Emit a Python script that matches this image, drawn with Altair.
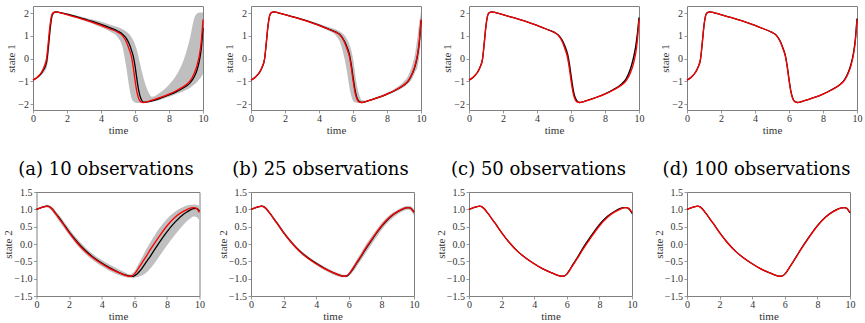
import altair as alt
import pandas as pd

# Shared time grid (denser where the trajectories change quickly)
TIME = [0, 0.25, 0.5, 0.65, 0.8, 0.9, 1.0, 1.1, 1.2, 1.35, 1.6, 2, 2.5, 3, 3.5, 4, 4.5, 5,
        5.25, 5.5, 5.65, 5.8, 5.9, 6.0, 6.1, 6.2, 6.35, 6.5, 6.75, 7, 7.5, 8, 8.5, 9, 9.25,
        9.5, 9.65, 9.8, 9.9, 10]

# True trajectories (red)
TRUE_S1 = [-0.95, -0.82, -0.6, -0.38, 0.0, 0.7, 1.45, 1.9, 2.02, 2.05, 2.01, 1.93, 1.82, 1.71,
           1.59, 1.46, 1.31, 1.15, 1.02, 0.72, 0.42, 0.05, -0.4, -0.95, -1.42, -1.72, -1.9,
           -1.93, -1.89, -1.83, -1.71, -1.56, -1.38, -1.15, -0.97, -0.62, -0.3, 0.2, 0.75, 1.72]
TRUE_S2 = [1.0, 1.04, 1.08, 1.09, 1.07, 1.03, 0.98, 0.92, 0.86, 0.76, 0.6, 0.33, 0.03, -0.22,
           -0.41, -0.57, -0.71, -0.82, -0.87, -0.91, -0.93, -0.93, -0.91, -0.87, -0.81, -0.74,
           -0.63, -0.52, -0.34, -0.15, 0.2, 0.52, 0.77, 0.94, 1.0, 1.04, 1.05, 1.03, 0.98, 0.91]

# Posterior means (black) and credible bands (grey), state 1
MEAN_S1_A = [-0.95, -0.83, -0.64, -0.45, -0.15, 0.48, 1.25, 1.82, 2.0, 2.05, 2.02, 1.95, 1.85,
             1.74, 1.63, 1.5, 1.36, 1.2, 1.08, 0.88, 0.66, 0.35, 0.1, -0.31, -0.84, -1.33,
             -1.77, -1.91, -1.9, -1.86, -1.74, -1.6, -1.43, -1.22, -1.06, -0.78, -0.5, -0.05,
             0.45, 1.35]
LO_S1_A = [-0.97, -0.86, -0.72, -0.6, -0.4, 0.0, 0.85, 1.6, 1.93, 2.01, 1.98, 1.9, 1.79, 1.66,
           1.53, 1.38, 1.2, 0.92, 0.55, -0.45, -1.2, -1.75, -1.88, -1.93, -1.95, -1.95, -1.95,
           -1.95, -1.93, -1.9, -1.81, -1.68, -1.54, -1.38, -1.28, -1.13, -1.03, -0.9, -0.8,
           -0.68]
HI_S1_A = [-0.93, -0.79, -0.55, -0.25, 0.2, 0.95, 1.65, 1.98, 2.06, 2.08, 2.05, 1.99, 1.9, 1.81,
           1.72, 1.62, 1.5, 1.38, 1.3, 1.18, 1.08, 0.93, 0.8, 0.62, 0.4, 0.1, -0.4, -0.85, -1.4,
           -1.68, -1.48, -1.15, -0.65, 0.25, 0.95, 1.8, 1.98, 2.02, 2.02, 2.02]

MEAN_S1_B = [-0.95, -0.82, -0.61, -0.39, -0.02, 0.67, 1.43, 1.89, 2.02, 2.05, 2.01, 1.93, 1.83,
             1.72, 1.6, 1.47, 1.32, 1.16, 1.04, 0.76, 0.5, 0.14, -0.28, -0.8, -1.3, -1.65, -1.88,
             -1.93, -1.89, -1.83, -1.71, -1.56, -1.39, -1.16, -0.99, -0.65, -0.34, 0.15, 0.7,
             1.68]
LO_S1_B = [-0.96, -0.84, -0.64, -0.45, -0.12, 0.5, 1.3, 1.84, 1.99, 2.03, 1.99, 1.9, 1.79, 1.67,
           1.55, 1.41, 1.24, 1.0, 0.7, 0.0, -0.6, -1.3, -1.65, -1.85, -1.92, -1.94, -1.95,
           -1.95, -1.92, -1.86, -1.75, -1.61, -1.45, -1.25, -1.1, -0.85, -0.6, -0.35, 0.1, 0.95]
HI_S1_B = [-0.94, -0.8, -0.57, -0.31, 0.12, 0.88, 1.58, 1.95, 2.05, 2.07, 2.03, 1.96, 1.86, 1.76,
           1.65, 1.53, 1.4, 1.28, 1.18, 1.02, 0.85, 0.6, 0.35, 0.0, -0.5, -1.05, -1.55, -1.82,
           -1.85, -1.79, -1.66, -1.5, -1.3, -1.0, -0.75, -0.25, 0.2, 1.0, 1.6, 2.02]

MEAN_S1_C = [-0.95, -0.82, -0.6, -0.38, 0.0, 0.7, 1.45, 1.9, 2.02, 2.05, 2.01, 1.93, 1.82, 1.71,
             1.59, 1.46, 1.31, 1.16, 1.04, 0.78, 0.52, 0.18, -0.22, -0.75, -1.25, -1.62, -1.86,
             -1.93, -1.89, -1.83, -1.7, -1.55, -1.36, -1.1, -0.88, -0.45, -0.05, 0.5, 1.05, 1.8]
LO_S1_C = [-0.955, -0.825, -0.605, -0.39, -0.03, 0.65, 1.42, 1.89, 2.015, 2.045, 2.005, 1.925,
           1.815, 1.7, 1.58, 1.445, 1.29, 1.13, 0.98, 0.66, 0.3, -0.15, -0.6, -1.1, -1.5, -1.75,
           -1.9, -1.935, -1.9, -1.84, -1.72, -1.57, -1.39, -1.16, -0.99, -0.6, -0.25, 0.25, 0.8,
           1.6]
HI_S1_C = [-0.945, -0.815, -0.595, -0.37, 0.03, 0.75, 1.48, 1.91, 2.025, 2.055, 2.015, 1.935,
           1.825, 1.72, 1.6, 1.475, 1.33, 1.19, 1.08, 0.85, 0.64, 0.35, 0.02, -0.45, -1.0, -1.45,
           -1.8, -1.925, -1.88, -1.82, -1.69, -1.53, -1.33, -1.06, -0.82, -0.35, 0.1, 0.7, 1.25,
           1.95]

MEAN_S1_D = [-0.95, -0.82, -0.6, -0.38, 0.0, 0.7, 1.45, 1.9, 2.02, 2.05, 2.01, 1.93, 1.82, 1.71,
             1.59, 1.46, 1.31, 1.15, 1.03, 0.74, 0.45, 0.09, -0.35, -0.9, -1.39, -1.7, -1.89,
             -1.93, -1.89, -1.83, -1.71, -1.56, -1.37, -1.14, -0.95, -0.58, -0.24, 0.28, 0.83,
             1.76]
LO_S1_D = [-0.955, -0.825, -0.605, -0.39, -0.02, 0.66, 1.43, 1.895, 2.015, 2.045, 2.005, 1.925,
           1.815, 1.705, 1.585, 1.455, 1.305, 1.14, 1.01, 0.7, 0.38, 0.0, -0.45, -0.98, -1.45,
           -1.74, -1.905, -1.935, -1.895, -1.835, -1.715, -1.565, -1.385, -1.16, -0.98, -0.65,
           -0.33, 0.15, 0.72, 1.7]
HI_S1_D = [-0.945, -0.815, -0.595, -0.37, 0.02, 0.74, 1.47, 1.905, 2.025, 2.055, 2.015, 1.935,
           1.825, 1.715, 1.595, 1.465, 1.315, 1.16, 1.05, 0.78, 0.5, 0.15, -0.27, -0.83, -1.34,
           -1.67, -1.88, -1.925, -1.885, -1.825, -1.705, -1.555, -1.355, -1.12, -0.92, -0.52,
           -0.17, 0.38, 0.92, 1.8]

# Posterior means and credible bands, state 2
MEAN_S2_A = [1.0, 1.04, 1.08, 1.09, 1.075, 1.04, 0.99, 0.93, 0.87, 0.78, 0.62, 0.35, 0.06, -0.19,
             -0.39, -0.55, -0.69, -0.81, -0.86, -0.9, -0.92, -0.93, -0.93, -0.92, -0.89, -0.85,
             -0.77, -0.68, -0.51, -0.34, 0.02, 0.35, 0.63, 0.85, 0.93, 1.0, 1.02, 1.03, 1.0, 0.95]
LO_S2_A = [0.99, 1.02, 1.05, 1.05, 1.02, 0.97, 0.91, 0.85, 0.78, 0.68, 0.52, 0.26, -0.04, -0.29,
           -0.48, -0.64, -0.78, -0.89, -0.93, -0.96, -0.97, -0.97, -0.97, -0.97, -0.96, -0.95,
           -0.93, -0.9, -0.82, -0.7, -0.38, -0.04, 0.27, 0.55, 0.67, 0.76, 0.79, 0.78, 0.74, 0.68]
HI_S2_A = [1.01, 1.07, 1.12, 1.13, 1.12, 1.09, 1.05, 1.0, 0.94, 0.86, 0.7, 0.44, 0.15, -0.1, -0.3,
           -0.46, -0.6, -0.72, -0.78, -0.84, -0.87, -0.87, -0.84, -0.79, -0.72, -0.63, -0.5,
           -0.37, -0.14, 0.06, 0.43, 0.72, 0.93, 1.07, 1.11, 1.13, 1.14, 1.13, 1.12, 1.1]

MEAN_S2_B = [1.0, 1.04, 1.08, 1.09, 1.07, 1.03, 0.98, 0.92, 0.86, 0.76, 0.6, 0.33, 0.04, -0.21,
             -0.4, -0.56, -0.7, -0.82, -0.87, -0.91, -0.93, -0.93, -0.92, -0.88, -0.82, -0.76,
             -0.65, -0.54, -0.36, -0.17, 0.18, 0.5, 0.76, 0.93, 0.99, 1.04, 1.05, 1.03, 0.98, 0.92]
LO_S2_B = [0.99, 1.02, 1.05, 1.06, 1.04, 1.0, 0.95, 0.88, 0.82, 0.72, 0.55, 0.28, -0.01, -0.26,
           -0.45, -0.61, -0.75, -0.87, -0.92, -0.95, -0.96, -0.96, -0.95, -0.92, -0.88, -0.83,
           -0.74, -0.64, -0.47, -0.29, 0.06, 0.4, 0.67, 0.86, 0.93, 0.98, 0.99, 0.96, 0.9, 0.82]
HI_S2_B = [1.01, 1.06, 1.1, 1.12, 1.1, 1.06, 1.01, 0.96, 0.9, 0.8, 0.65, 0.38, 0.09, -0.16, -0.35,
           -0.51, -0.65, -0.77, -0.82, -0.86, -0.89, -0.89, -0.87, -0.83, -0.76, -0.68, -0.56,
           -0.44, -0.25, -0.05, 0.29, 0.6, 0.84, 0.99, 1.05, 1.09, 1.1, 1.09, 1.05, 1.0]

MEAN_S2_C = [1.0, 1.04, 1.08, 1.09, 1.07, 1.03, 0.98, 0.92, 0.86, 0.76, 0.6, 0.33, 0.03, -0.22,
             -0.41, -0.57, -0.71, -0.82, -0.87, -0.91, -0.93, -0.93, -0.91, -0.87, -0.8, -0.73,
             -0.61, -0.5, -0.31, -0.11, 0.24, 0.56, 0.8, 0.96, 1.02, 1.05, 1.05, 1.02, 0.96, 0.88]
LO_S2_C = [0.995, 1.03, 1.07, 1.08, 1.06, 1.02, 0.97, 0.91, 0.85, 0.75, 0.59, 0.32, 0.02, -0.235,
           -0.425, -0.585, -0.725, -0.835, -0.885, -0.925, -0.945, -0.945, -0.925, -0.89,
           -0.825, -0.755, -0.64, -0.53, -0.34, -0.14, 0.21, 0.53, 0.78, 0.945, 1.005, 1.035,
           1.035, 1.0, 0.94, 0.86]
HI_S2_C = [1.005, 1.05, 1.09, 1.1, 1.08, 1.04, 0.99, 0.93, 0.87, 0.77, 0.61, 0.34, 0.04, -0.205,
           -0.395, -0.555, -0.695, -0.805, -0.855, -0.895, -0.915, -0.915, -0.895, -0.85, -0.78,
           -0.705, -0.58, -0.47, -0.28, -0.08, 0.27, 0.59, 0.82, 0.975, 1.035, 1.065, 1.065,
           1.04, 0.98, 0.9]

MEAN_S2_D = [1.0, 1.04, 1.08, 1.09, 1.07, 1.03, 0.98, 0.92, 0.86, 0.76, 0.6, 0.33, 0.03, -0.22,
             -0.41, -0.57, -0.71, -0.82, -0.87, -0.91, -0.93, -0.93, -0.91, -0.87, -0.81, -0.74,
             -0.63, -0.52, -0.33, -0.14, 0.21, 0.53, 0.78, 0.95, 1.01, 1.04, 1.05, 1.03, 0.97, 0.9]
LO_S2_D = [0.995, 1.035, 1.075, 1.085, 1.065, 1.025, 0.975, 0.915, 0.855, 0.755, 0.595, 0.325,
           0.025, -0.225, -0.415, -0.575, -0.715, -0.825, -0.875, -0.915, -0.935, -0.935,
           -0.915, -0.88, -0.82, -0.75, -0.64, -0.53, -0.345, -0.155, 0.195, 0.515, 0.77, 0.94,
           1.0, 1.035, 1.04, 1.02, 0.96, 0.89]
HI_S2_D = [1.005, 1.045, 1.085, 1.095, 1.075, 1.035, 0.985, 0.925, 0.865, 0.765, 0.605, 0.335,
           0.035, -0.215, -0.405, -0.565, -0.705, -0.815, -0.865, -0.905, -0.925, -0.925,
           -0.905, -0.86, -0.8, -0.73, -0.62, -0.51, -0.32, -0.13, 0.225, 0.545, 0.79, 0.96,
           1.02, 1.045, 1.06, 1.04, 0.98, 0.91]

CAPTIONS = ["(a) 10 observations", "(b) 25 observations",
            "(c) 50 observations", "(d) 100 observations"]

X_TICKS = [0, 2, 4, 6, 8, 10]
Y1_TICKS = [-2, -1, 0, 1, 2]
Y2_TICKS = [-1.5, -1.0, -0.5, 0.0, 0.5, 1.0, 1.5]

SERIF = "Liberation Serif"
CAPTION_FONT = "DejaVu Serif"
FRAME = "#808080"
INK = "#333333"
GREY = "#bfbfbf"

AXIS_STYLE = dict(
    labelFont=SERIF, labelFontSize=10, labelColor=INK,
    titleFont=SERIF, titleFontSize=11, titleFontWeight="normal", titleColor=INK,
    tickColor=FRAME, tickSize=3, tickWidth=0.8, domain=False, grid=False,
    labelFlush=False,
)


def panel(truth, mean, lo, hi, state, caption=None):
    df = pd.DataFrame({"t": TIME, "truth": truth, "mean": mean, "lo": lo, "hi": hi})
    if state == 1:
        ydom, yticks, yfmt, width, title_x = [-2.26, 2.31], Y1_TICKS, "d", 170, -21.5
    else:
        ydom, yticks, yfmt, width, title_x = [-1.5, 1.5], Y2_TICKS, ".1f", 163, -28
    x = alt.X("t:Q", scale=alt.Scale(domain=[0, 10], nice=False, zero=False),
              axis=alt.Axis(values=X_TICKS, format="d", title="time",
                            labelPadding=0.5, titlePadding=1, **AXIS_STYLE))
    yscale = alt.Scale(domain=ydom, nice=False, zero=False)
    yaxis = alt.Axis(values=yticks, format=yfmt, title=f"state {state}",
                     labelPadding=1.5, titleX=title_x, titleY=52, titleAngle=270,
                     titleAlign="center", titleBaseline="middle", **AXIS_STYLE)
    base = alt.Chart(df).encode(x=x)
    band = base.mark_area(color=GREY, interpolate="monotone").encode(
        y=alt.Y("lo:Q", scale=yscale, axis=yaxis), y2="hi:Q")
    est = base.mark_line(color="black", strokeWidth=1.3, interpolate="monotone").encode(
        y=alt.Y("mean:Q", scale=yscale, axis=yaxis))
    true_line = base.mark_line(color="#ff0000", strokeWidth=1.3, interpolate="monotone").encode(
        y=alt.Y("truth:Q", scale=yscale, axis=yaxis))
    ch = alt.layer(band, est, true_line).properties(width=width, height=104)
    if caption:
        ch = ch.properties(title=alt.TitleParams(
            caption, font=CAPTION_FONT, fontSize=18, fontWeight="normal", color="black",
            anchor="middle", frame="group", offset=8, dx=-12))
    return ch


top = [
    panel(TRUE_S1, MEAN_S1_A, LO_S1_A, HI_S1_A, 1),
    panel(TRUE_S1, MEAN_S1_B, LO_S1_B, HI_S1_B, 1),
    panel(TRUE_S1, MEAN_S1_C, LO_S1_C, HI_S1_C, 1),
    panel(TRUE_S1, MEAN_S1_D, LO_S1_D, HI_S1_D, 1),
]
bottom = [
    panel(TRUE_S2, MEAN_S2_A, LO_S2_A, HI_S2_A, 2, CAPTIONS[0]),
    panel(TRUE_S2, MEAN_S2_B, LO_S2_B, HI_S2_B, 2, CAPTIONS[1]),
    panel(TRUE_S2, MEAN_S2_C, LO_S2_C, HI_S2_C, 2, CAPTIONS[2]),
    panel(TRUE_S2, MEAN_S2_D, LO_S2_D, HI_S2_D, 2, CAPTIONS[3]),
]

chart = alt.concat(*top, *bottom, columns=4).properties(
    spacing={"row": 82, "column": 48},
    bounds="flush",
    center=True,
    padding={"left": 2, "top": 5, "right": 0, "bottom": 0},
).configure_view(
    stroke=FRAME, strokeWidth=1
)

chart.save("out.html", embed_options={"renderer": "svg", "actions": False})
